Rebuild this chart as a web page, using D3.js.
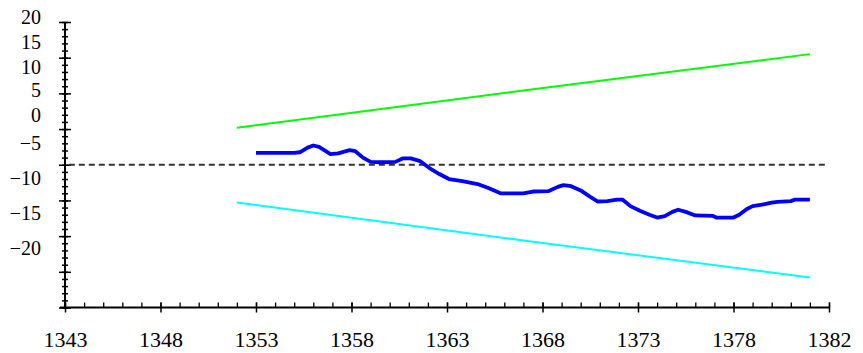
<!DOCTYPE html>
<html>
<head>
<meta charset="utf-8">
<script src="https://cdn.jsdelivr.net/npm/d3@7"></script>
<style>
  body { margin: 0; background: #fff; }
  svg { display: block; }
  svg text { font-family: "Liberation Serif", "DejaVu Serif", serif !important; }
</style>
</head>
<body>
<div id="chart"></div>
<script>
// x axis: years
const xMajor = [1343, 1348, 1353, 1358, 1363, 1368, 1373, 1378, 1383];
const xLabels = ["1343", "1348", "1353", "1358", "1363", "1368", "1373", "1378", "1382"];
const xMinor = d3.range(1343, 1384, 1);

// y axis
const yMajor = [20, 15, 10, 5, 0, -5, -10, -15, -20];
const yLabels = ["20", "15", "10", "5", "0", "\u22125", "\u221210", "\u221215", "\u221220"];
const yMinor = d3.range(-20, 21, 1);

// main series (blue)
const blueYears = [1353.0, 1354.0, 1355.0, 1355.3, 1355.7, 1356.0, 1356.3, 1356.9, 1357.3, 1357.9,
  1358.2, 1358.6, 1359.0, 1359.6, 1360.3, 1360.7, 1361.1, 1361.6, 1362.1, 1362.6,
  1363.1, 1363.8, 1364.6, 1365.2, 1365.8, 1367.0, 1367.5, 1368.3, 1368.8, 1369.1,
  1369.5, 1370.0, 1370.5, 1370.9, 1371.4, 1371.9, 1372.2, 1372.6, 1373.1, 1373.6,
  1374.0, 1374.4, 1374.8, 1375.1, 1375.5, 1376.0, 1376.9, 1377.1, 1378.0, 1378.3,
  1378.7, 1379.0, 1379.5, 1380.0, 1380.3, 1381.0, 1381.2, 1382.0];
const blueValues = [1.65, 1.65, 1.65, 1.75, 2.4, 2.7, 2.5, 1.5, 1.6, 2.05,
  1.9, 1.0, 0.4, 0.35, 0.4, 0.9, 0.9, 0.5, -0.5, -1.3,
  -2.0, -2.3, -2.7, -3.3, -4.0, -4.0, -3.75, -3.7, -3.1, -2.85,
  -3.0, -3.6, -4.5, -5.15, -5.1, -4.9, -4.9, -5.8, -6.45, -7.0,
  -7.4, -7.2, -6.6, -6.3, -6.6, -7.1, -7.15, -7.4, -7.4, -7.0,
  -6.2, -5.8, -5.6, -5.3, -5.2, -5.1, -4.9, -4.9];

// upper limit (green) and lower limit (cyan)
const upperYears = [1352, 1367, 1382];
const upperValues = [5.2, 10.4, 15.5];
const lowerYears = [1352, 1367, 1382];
const lowerValues = [-5.3, -10.6, -15.8];

// reference line
const refYears = [1343.2, 1382.8];
const refValues = [0, 0];

class LimitChart {
  constructor(parentElement) {
    this.parentElement = parentElement;
    this.initVis();
  }

  initVis() {
    let vis = this;

    vis.width = 863;
    vis.height = 353;

    vis.svg = d3.select("#" + vis.parentElement)
      .append("svg")
      .attr("width", vis.width)
      .attr("height", vis.height);

    vis.x = d3.scaleLinear().domain([1343, 1383]).range([65, 829]);
    vis.y = d3.scaleLinear().domain([-20, 20]).range([307.5, 22]);

    vis.line = d3.line()
      .x(d => vis.x(d[0]))
      .y(d => vis.y(d[1]));

    vis.drawAxes();
    vis.drawLines();
  }

  drawAxes() {
    let vis = this;
    let y0 = vis.y(-20);

    // x minor ticks (above the axis only)
    vis.svg.append("g")
      .attr("transform", `translate(0, ${y0})`)
      .call(d3.axisTop(vis.x).tickValues(xMinor).tickSize(5).tickFormat(""))
      .call(g => g.select(".domain").remove())
      .selectAll("line").attr("stroke-width", 1.3);

    // x major ticks + labels
    let xg = vis.svg.append("g")
      .attr("transform", `translate(0, ${y0})`)
      .call(d3.axisBottom(vis.x).tickValues(xMajor).tickSizeInner(5).tickSizeOuter(0)
        .tickFormat((d, i) => xLabels[i]));
    xg.attr("font-family", null).attr("font-size", 22);
    xg.select(".domain").remove();
    xg.selectAll(".tick line").attr("y1", -5).attr("y2", 5).attr("stroke-width", 1.5);
    xg.selectAll(".tick text")
      .attr("y", 39).attr("dy", 0)
      .attr("fill", "#000")
      .attr("font-size", 22);

    vis.svg.append("line")
      .attr("x1", 60).attr("x2", vis.x(1383))
      .attr("y1", y0).attr("y2", y0)
      .attr("stroke", "#000").attr("stroke-width", 2);

    // y minor ticks (small crosses)
    vis.svg.append("g")
      .attr("transform", `translate(${vis.x(1343)}, 0)`)
      .call(d3.axisLeft(vis.y).tickValues(yMinor).tickSize(3).tickFormat(""))
      .call(g => g.select(".domain").remove())
      .selectAll("line").attr("x2", 3).attr("x1", -3).attr("stroke-width", 1.5);

    // y major ticks
    vis.svg.append("g")
      .attr("transform", `translate(${vis.x(1343)}, 0)`)
      .call(d3.axisLeft(vis.y).tickValues(yMajor).tickSize(6).tickFormat(""))
      .call(g => g.select(".domain").remove())
      .selectAll("line").attr("x2", 6).attr("x1", -6).attr("stroke-width", 1.5);

    vis.svg.append("line")
      .attr("x1", vis.x(1343)).attr("x2", vis.x(1343))
      .attr("y1", vis.y(20)).attr("y2", y0)
      .attr("stroke", "#000").attr("stroke-width", 2);

    // y labels sit off their ticks in the original, so they get their own spots
    let labelPos = [17, 42, 67, 90, 115, 143, 178, 213, 248];
    vis.svg.append("g")
      .selectAll("text")
      .data(yLabels)
      .enter()
      .append("text")
      .attr("x", 41)
      .attr("y", (d, i) => labelPos[i])
      .attr("dy", "0.35em")
      .attr("text-anchor", "end")
      .attr("fill", "#000")
      .attr("font-size", 20)
      .text(d => d);
  }

  drawLines() {
    let vis = this;

    vis.svg.append("path")
      .datum(refYears.map((d, i) => [d, refValues[i]]))
      .attr("d", vis.line)
      .attr("fill", "none")
      .attr("stroke", "#333")
      .attr("stroke-width", 2)
      .attr("stroke-dasharray", "6,4");

    vis.svg.append("path")
      .datum(upperYears.map((d, i) => [d, upperValues[i]]))
      .attr("d", vis.line)
      .attr("fill", "none")
      .attr("stroke", "#00ff00")
      .attr("stroke-width", 2);

    vis.svg.append("path")
      .datum(lowerYears.map((d, i) => [d, lowerValues[i]]))
      .attr("d", vis.line)
      .attr("fill", "none")
      .attr("stroke", "#00ffff")
      .attr("stroke-width", 2);

    vis.svg.append("path")
      .datum(blueYears.map((d, i) => [d, blueValues[i]]))
      .attr("d", vis.line)
      .attr("fill", "none")
      .attr("stroke", "#0000ff")
      .attr("stroke-width", 3.8)
      .attr("stroke-linejoin", "round");
  }
}

new LimitChart("chart");
</script>
</body>
</html>
